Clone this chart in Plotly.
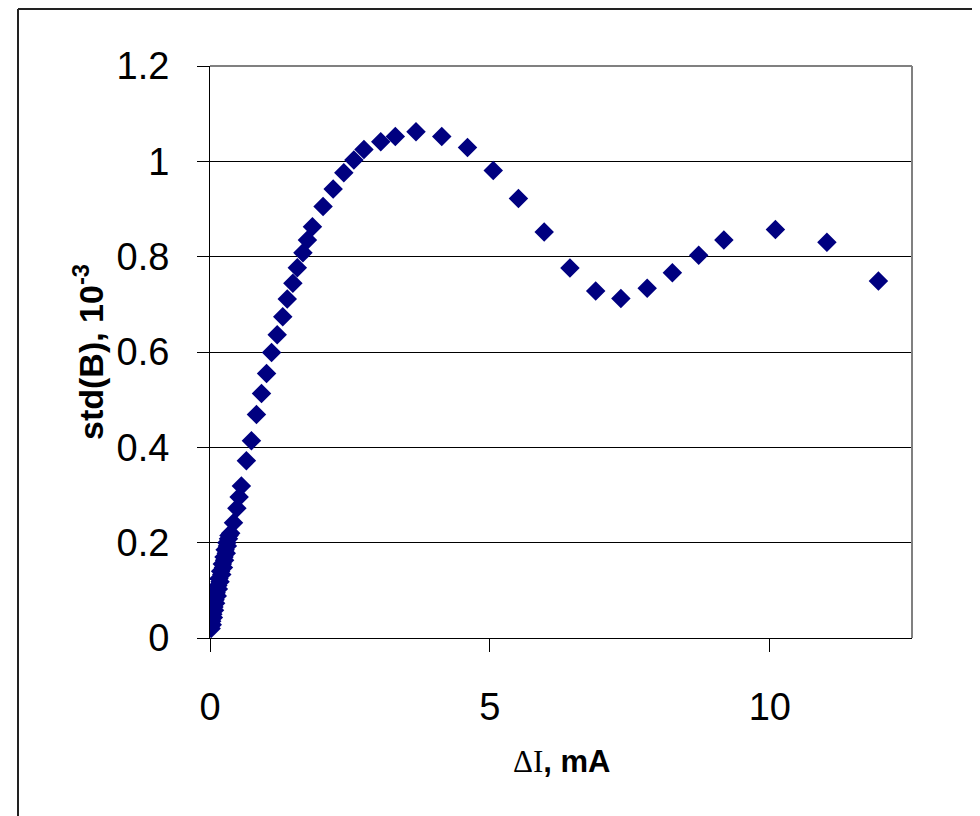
import plotly.graph_objects as go

# Data (ΔI in mA, std(B) in 1e-3)
delta_i = [0.02, 0.04, 0.03, 0.06, 0.05, 0.08, 0.07, 0.10, 0.09, 0.13, 0.11, 0.15, 0.14,
           0.18, 0.16, 0.21, 0.19, 0.24, 0.22, 0.26, 0.25, 0.29, 0.27, 0.31, 0.30, 0.33, 0.34,
           0.37, 0.42, 0.48, 0.52, 0.56, 0.65, 0.74, 0.83, 0.92, 1.01, 1.10, 1.20, 1.30,
           1.38, 1.48, 1.56, 1.66, 1.74, 1.83, 2.02, 2.20, 2.39, 2.57, 2.75, 3.05, 3.31,
           3.68, 4.14, 4.60, 5.06, 5.51, 5.97, 6.43, 6.89, 7.34, 7.81, 8.26, 8.73, 9.18,
           10.10, 11.02, 11.94]
std_b = [0.020, 0.028, 0.035, 0.043, 0.050, 0.058, 0.065, 0.073, 0.080, 0.088, 0.095, 0.103,
         0.110, 0.118, 0.125, 0.133, 0.140, 0.148, 0.155, 0.163, 0.170, 0.178, 0.185, 0.193,
         0.200, 0.208, 0.215, 0.220, 0.242, 0.272, 0.296, 0.319, 0.372, 0.414, 0.469, 0.513,
         0.555, 0.599, 0.636, 0.674, 0.711, 0.744, 0.777, 0.808, 0.835, 0.863, 0.905, 0.942,
         0.976, 1.003, 1.025, 1.041, 1.052, 1.062, 1.052, 1.029, 0.981, 0.922, 0.852, 0.776,
         0.728, 0.712, 0.734, 0.766, 0.803, 0.835, 0.857, 0.830, 0.749]

x_ticks = [0, 5, 10]
y_ticks = [0, 0.2, 0.4, 0.6, 0.8, 1.0, 1.2]
y_tick_text = ["0", "0.2", "0.4", "0.6", "0.8", "1", "1.2"]

fig = go.Figure()
fig.add_trace(go.Scatter(
    x=delta_i, y=std_b, mode="markers",
    marker=dict(symbol="diamond", size=15, color="#000080", line=dict(width=0)),
    showlegend=False,
))

# page is offset by the default 8px body margin
OFF = 8
W, H = 972, 808
L, R, T, B = 210 - OFF, 68, 66 - OFF, 178
pw, ph = W - L - R, H - T - B

def px(xp):  # page pixel -> paper x
    return (xp - OFF - L) / pw

def py(yp):  # page pixel -> paper y
    return (H - B - (yp - OFF)) / ph

fig.update_layout(
    width=W, height=H,
    margin=dict(l=L, r=R, t=T, b=B, pad=0),
    paper_bgcolor="white", plot_bgcolor="white",
    font=dict(family="Liberation Sans, Arial, sans-serif", color="black"),
    xaxis=dict(
        range=[0, 12.54], tickvals=x_ticks, ticktext=[str(v) for v in x_ticks],
        showgrid=False, zeroline=False, showline=True, linecolor="black", linewidth=1,
        ticks="outside", ticklen=13, tickwidth=1, tickcolor="black",
        tickfont=dict(size=38), ticklabelstandoff=22,
    ),
    yaxis=dict(
        range=[0, 1.2], tickvals=y_ticks, ticktext=y_tick_text,
        showgrid=True, gridcolor="black", gridwidth=1, zeroline=False,
        showline=True, linecolor="black", linewidth=1,
        ticks="outside", ticklen=12, tickwidth=1, tickcolor="black",
        tickfont=dict(size=38), ticklabelstandoff=20,
    ),
    shapes=[
        # plot-area border (gray, top and right)
        dict(type="line", xref="paper", yref="paper", x0=0, x1=1, y0=1, y1=1,
             line=dict(color="#808080", width=2), layer="above"),
        dict(type="line", xref="paper", yref="paper", x0=1, x1=1, y0=0, y1=1,
             line=dict(color="#808080", width=2), layer="above"),
        # outer chart border
        dict(type="line", xref="paper", yref="paper", x0=px(18), x1=px(1000), y0=py(9), y1=py(9),
             line=dict(color="#222222", width=2), layer="above"),
        dict(type="line", xref="paper", yref="paper", x0=px(18), x1=px(18), y0=py(9), y1=py(840),
             line=dict(color="#222222", width=2), layer="above"),
    ],
    annotations=[
        dict(text="<b>std(B), 10<sup>-3</sup></b>", xref="paper", yref="paper",
             x=px(88), y=py(352), xanchor="center", yanchor="middle", textangle=-90,
             showarrow=False, font=dict(size=34, color="black")),
        dict(text="<span style=\"font-family:'Liberation Serif', 'Times New Roman', serif\">ΔI</span><b>, mA</b>",
             xref="paper", yref="paper", x=px(561), y=py(762),
             xanchor="center", yanchor="middle", showarrow=False,
             font=dict(size=31, color="black")),
    ],
)

fig.write_html("out.html")
